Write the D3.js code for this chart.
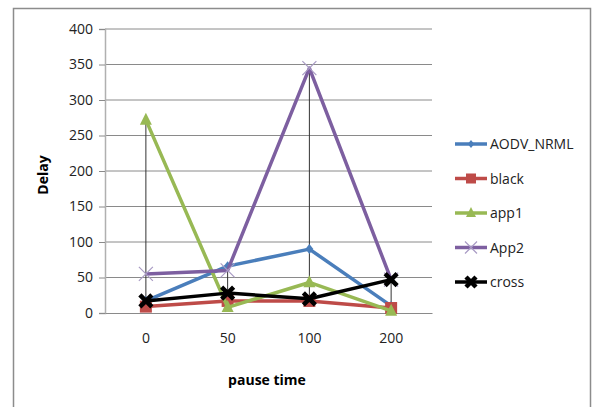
<!DOCTYPE html>
<html>
<head>
<meta charset="utf-8">
<script src="https://cdnjs.cloudflare.com/ajax/libs/d3/7.8.5/d3.min.js"></script>
<style>
  body { margin: 0; background: #fff; }
  text { font-family: "Open Sans", "Noto Sans", sans-serif; }
</style>
</head>
<body>
<div id="chart"></div>
<script>
// data
const categories = ["0", "50", "100", "200"]
const seriesNames = ["AODV_NRML", "black", "app1", "App2", "cross"]
const aodv = [17, 66, 90, 10]
const black = [9, 17, 17, 7]
const app1 = [272, 8, 43, 3]
const app2 = [55, 60, 345, 47]
const cross = [17, 28, 20, 47]
const yTicks = [0, 50, 100, 150, 200, 250, 300, 350, 400]

const colors = ["#4a7ebb", "#be4b48", "#98b954", "#7d5fa0", "#000000"]
const symbols = ["diamond", "square", "triangle", "x", "cross"]
const values = [aodv, black, app1, app2, cross]

const W = 592, H = 407
var margin = { top: 29, right: 160, bottom: 94, left: 105 }
let width = 432 - margin.left
let height = 313 - margin.top

const svg0 = d3.select("#chart").append("svg")
  .attr("width", W).attr("height", H)

// outer chart border
svg0.append("rect")
  .attr("x", 13.5).attr("y", 8.5)
  .attr("width", 577).attr("height", 420)
  .attr("fill", "none").attr("stroke", "#8c8c8c").attr("stroke-width", 1.5)

const svg = svg0.append("g")
  .attr("transform", "translate(" + margin.left + "," + margin.top + ")")

var x = d3.scaleBand().domain(categories).range([0, width])
var y = d3.scaleLinear().domain([0, 400]).range([height, 0])
const cx = c => x(c) + x.bandwidth() / 2

// gridlines
svg.selectAll(".grid").data(yTicks.slice(1)).enter().append("line")
  .attr("x1", 0).attr("x2", width)
  .attr("y1", d => y(d)).attr("y2", d => y(d))
  .attr("stroke", "#8a8a8a").attr("stroke-width", 1)

// y axis
const yAxis = svg.append("g")
  .call(d3.axisLeft(y).tickValues(yTicks).tickSize(6).tickPadding(6))
yAxis.select(".domain").attr("stroke", "#b0b0b0").attr("stroke-width", 1.5)
yAxis.selectAll(".tick line").attr("stroke", "#8a8a8a")
yAxis.selectAll("text").attr("font-size", "14px").attr("fill", "#222")

// x axis
const xAxis = svg.append("g")
  .attr("transform", "translate(0," + height + ")")
  .call(d3.axisBottom(x).tickSize(0).tickPadding(20))
xAxis.select(".domain").attr("stroke", "#8a8a8a").attr("stroke-width", 1)
xAxis.selectAll("text").attr("font-size", "14px").attr("fill", "#222")

// high-low lines
svg.selectAll(".hilo").data(categories).enter().append("line")
  .attr("x1", d => cx(d)).attr("x2", d => cx(d))
  .attr("y1", (d, i) => y(d3.min(values, v => v[i])))
  .attr("y2", (d, i) => y(d3.max(values, v => v[i])))
  .attr("stroke", "#333").attr("stroke-width", 1)

function marker(g, kind, color, s) {
  if (kind === "diamond") {
    g.append("path").attr("d", `M0,${-s}L${s * 0.8},0L0,${s}L${-s * 0.8},0Z`).attr("fill", color)
  } else if (kind === "square") {
    g.append("rect").attr("x", -s).attr("y", -s).attr("width", 2 * s).attr("height", 2 * s).attr("fill", color)
  } else if (kind === "triangle") {
    g.append("path").attr("d", `M0,${-s * 1.2}L${s},${s * 0.8}L${-s},${s * 0.8}Z`).attr("fill", color)
  } else if (kind === "x") {
    g.append("path").attr("d", `M${-s},${-s}L${s},${s}M${-s},${s}L${s},${-s}`)
      .attr("stroke", "#a99bc4").attr("stroke-width", 1.2)
  } else {
    g.append("path").attr("d", `M${-s},${-s}L${s},${s}M${-s},${s}L${s},${-s}`)
      .attr("stroke", color).attr("stroke-width", 4.5)
  }
}
const msize = [5, 6, 6, 7, 6]

const line = d3.line().x((d, i) => cx(categories[i])).y(d => y(d))

values.forEach((v, k) => {
  svg.append("path").datum(v)
    .attr("d", line)
    .attr("fill", "none")
    .attr("stroke", colors[k])
    .attr("stroke-width", 3.5)
    .attr("stroke-linejoin", "round")
  v.forEach((d, i) => {
    const g = svg.append("g").attr("transform", `translate(${cx(categories[i])},${y(d)})`)
    marker(g, symbols[k], colors[k], msize[k])
  })
})

// legend
const legend = svg0.append("g").attr("transform", "translate(455,144)")
seriesNames.forEach((name, k) => {
  const g = legend.append("g").attr("transform", `translate(0,${k * 34.5})`)
  g.append("line").attr("x1", 0).attr("x2", 32).attr("y1", 0).attr("y2", 0)
    .attr("stroke", colors[k]).attr("stroke-width", 3.5)
  const m = g.append("g").attr("transform", "translate(16,0)")
  marker(m, symbols[k], colors[k], msize[k] - 1)
  g.append("text").attr("x", 35).attr("y", 5)
    .attr("font-size", "14px").attr("fill", "#222").text(name)
})

// axis titles
svg0.append("text")
  .attr("transform", "translate(48,175) rotate(-90)")
  .attr("text-anchor", "middle")
  .attr("font-size", "14px").attr("font-weight", "bold")
  .text("Delay")
svg0.append("text")
  .attr("x", 267).attr("y", 385)
  .attr("text-anchor", "middle")
  .attr("font-size", "14px").attr("font-weight", "bold")
  .text("pause time")
</script>
</body>
</html>
